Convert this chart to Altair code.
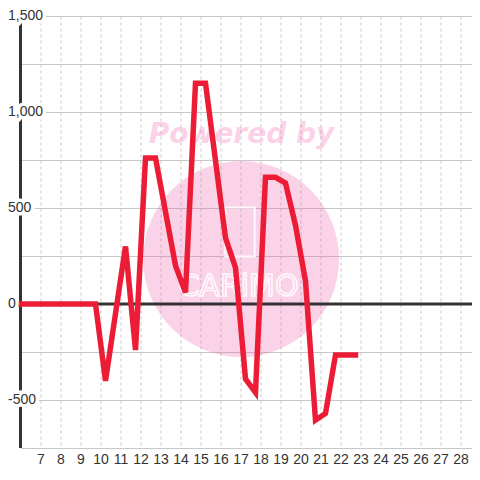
import altair as alt
import pandas as pd

# --- data ---
xs = [6, 9.75, 10.25, 11.25, 11.75, 12.25, 12.75, 13.75, 14.25, 14.75, 15.25,
      16.25, 16.75, 17.25, 17.75, 18.25, 18.75, 19.25, 19.75, 20.25, 20.75,
      21.25, 21.75, 22.75]
ys = [0, 0, -400, 300, -240, 760, 760, 200, 60, 1150, 1150,
      345, 190, -390, -460, 660, 660, 630, 410, 120, -605,
      -570, -265, -265]

y_tick_values = [1500, 1000, 500, 0, -500]
y_tick_labels = ["1,500", "1,000", "500", "0", "-500"]
y_grid_values = [-750, -500, -250, 0, 250, 500, 750, 1000, 1250, 1500]
x_tick_values = list(range(7, 29))

X_DOMAIN = [6, 28.575]
Y_DOMAIN = [-750, 1500]

line_df = pd.DataFrame({"x": xs, "y": ys})
lab_df = pd.DataFrame({"x": [X_DOMAIN[0]] * len(y_tick_values), "y": y_tick_values, "t": y_tick_labels})

xsc = alt.Scale(domain=X_DOMAIN, nice=False, zero=False)
ysc = alt.Scale(domain=Y_DOMAIN, nice=False, zero=False)

X = alt.X("x:Q", scale=xsc, title=None,
          axis=alt.Axis(values=x_tick_values, grid=True, gridDash=[3, 3], gridColor="#c8c8c8",
                        ticks=False, domain=False, labelFontSize=14, labelFont="Liberation Sans",
                        labelColor="#333333", labelPadding=4, labelFlush=False))
Y = alt.Y("y:Q", scale=ysc, title=None,
          axis=alt.Axis(values=y_grid_values, grid=True, gridColor="#c8c8c8", labels=False,
                        ticks=False, domain=False))

# --- watermark ---
wm_df = pd.DataFrame({"x": [17.03], "y": [234]})
circle = alt.Chart(wm_df).mark_point(filled=True, shape="circle", size=38416,
                                     color="#f050a8", opacity=0.25).encode(x=X, y=Y)
pw_df = pd.DataFrame({"x": [17.05], "y": [838], "t": ["Powered by"]})
powered = alt.Chart(pw_df).mark_text(font="DejaVu Sans", fontWeight="bold", fontStyle="italic",
                                     fontSize=28, color="#f050a8", opacity=0.25,
                                     align="center", baseline="alphabetic").encode(x=X, y=Y, text="t:N")
cup_df = pd.DataFrame({"x": [16.975], "y": [375]})
cup = alt.Chart(cup_df).mark_point(shape="M-0.6,-1 L0.6,-1 L0.6,1 L-0.6,1 Z", size=2401,
                                   filled=False, stroke="white", strokeWidth=2, opacity=0.9).encode(x=X, y=Y)
logo_df = pd.DataFrame({"x": [16.9], "y": [88], "t": ["CARiMO"]})
logo = alt.Chart(logo_df).mark_text(font="DejaVu Sans", fontSize=30, fill="transparent",
                                    stroke="white", strokeWidth=1.5, opacity=0.9,
                                    align="center", baseline="middle").encode(x=X, y=Y, text="t:N")

# --- axis lines ---
yaxis_df = pd.DataFrame({"x": [X_DOMAIN[0]], "y": [Y_DOMAIN[0]], "y2": [Y_DOMAIN[1]]})
yaxis = alt.Chart(yaxis_df).mark_rule(color="#333333", strokeWidth=3).encode(x=X, y=Y, y2="y2:Q")
zero_df = pd.DataFrame({"x": [X_DOMAIN[0]], "x2": [X_DOMAIN[1]], "y": [0]})
zero = alt.Chart(zero_df).mark_rule(color="#333333", strokeWidth=3).encode(x=X, x2="x2:Q", y=Y)

# --- data line ---
line = alt.Chart(line_df).mark_line(color="#ed1c36", strokeWidth=5.5, strokeJoin="miter",
                                    strokeCap="square").encode(x=X, y=Y, order="x:Q")

# --- y labels with white halo ---
halo = alt.Chart(lab_df).mark_text(align="left", baseline="middle", dx=-12.5, fontSize=14,
                                   font="Liberation Sans", color="white", stroke="white",
                                   strokeWidth=7).encode(x=X, y=Y, text="t:N")
labels = alt.Chart(lab_df).mark_text(align="left", baseline="middle", dx=-12.5, fontSize=14,
                                     font="Liberation Sans", color="#333333").encode(x=X, y=Y, text="t:N")

chart = alt.layer(circle, powered, cup, logo, yaxis, zero, line, halo, labels).properties(
    width=451.5, height=432,
    autosize=alt.AutoSizeParams(type="none"),
    padding={"left": 12.5, "top": 8, "right": 0, "bottom": 24},
).configure_view(strokeWidth=0)

chart.save("out.html", embed_options={"renderer": "svg", "actions": False})
